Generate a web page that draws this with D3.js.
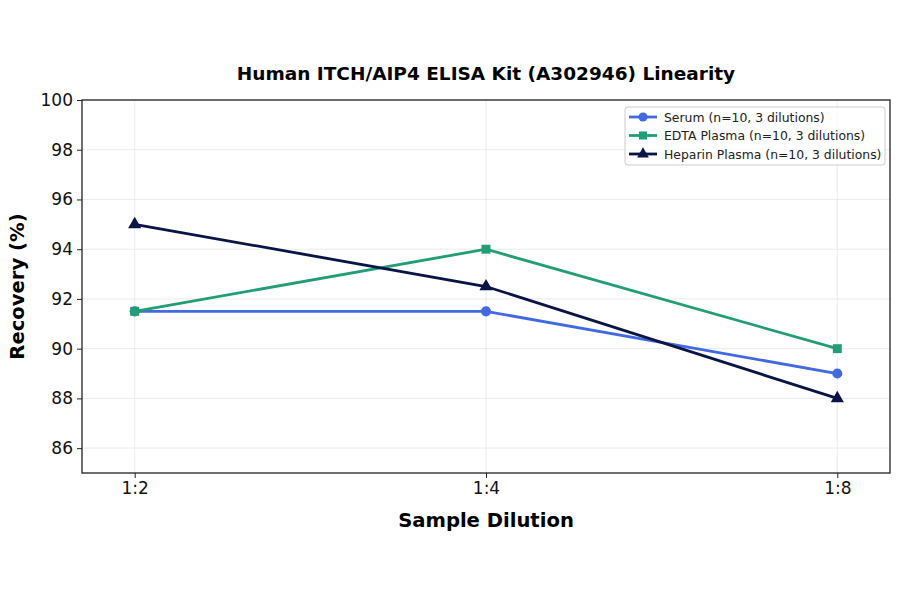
<!DOCTYPE html>
<html><head><meta charset="utf-8">
<script src="https://cdn.jsdelivr.net/npm/d3@7"></script>
<style>body{margin:0;background:#fff}svg{display:block}text{font-family:"DejaVu Sans",sans-serif}</style>
</head><body><svg id="c" width="900" height="594"></svg>
<script>
const categories = ["1:2", "1:4", "1:8"];
const serum = [91.5, 91.5, 89.0];
const edta = [91.5, 94.0, 90.0];
const heparin = [95.0, 92.5, 88.0];
const yTicks = [86, 88, 90, 92, 94, 96, 98, 100];
const seriesNames = ["Serum (n=10, 3 dilutions)", "EDTA Plasma (n=10, 3 dilutions)", "Heparin Plasma (n=10, 3 dilutions)"];

const series = [
  {name: seriesNames[0], values: serum, color: "#4169E1", shape: d3.symbolCircle},
  {name: seriesNames[1], values: edta, color: "#229E76", shape: d3.symbolSquare},
  {name: seriesNames[2], values: heparin, color: "#0B1446", shape: d3.symbolTriangle}
];

const svg = d3.select("#c");
const L = 82, T = 100, R = 890, B = 473;
const x = d3.scalePoint().domain(categories).range([L, R]).padding(0.15);
const y = d3.scaleLinear().domain([85, 100]).range([B, T]);

// grid
const g = svg.append("g");
g.selectAll(".gy").data(yTicks).enter().append("line")
  .attr("x1", L).attr("x2", R).attr("y1", d => y(d)).attr("y2", d => y(d))
  .attr("stroke", "#e6e6e6").attr("stroke-width", 0.8);
g.selectAll(".gx").data(categories).enter().append("line")
  .attr("y1", T).attr("y2", B).attr("x1", d => x(d)).attr("x2", d => x(d))
  .attr("stroke", "#e6e6e6").attr("stroke-width", 0.8);

// axes
const xa = svg.append("g").attr("transform", `translate(0,${B})`)
  .call(d3.axisBottom(x).tickSize(5).tickPadding(4));
const ya = svg.append("g").attr("transform", `translate(${L},0)`)
  .call(d3.axisLeft(y).tickValues(yTicks).tickSize(5).tickPadding(4));
[xa, ya].forEach(a => {
  a.select(".domain").remove();
  a.selectAll("text").attr("font-size", 17).attr("fill", "#111").attr("font-family", "DejaVu Sans");
  a.selectAll("line").attr("stroke", "#222").attr("stroke-width", 1);
});

// lines
const line = d3.line().x((d, i) => x(categories[i])).y(d => y(d));
series.forEach(s => {
  svg.append("path").datum(s.values).attr("d", line)
    .attr("fill", "none").attr("stroke", s.color).attr("stroke-width", 2.8);
  svg.selectAll(null).data(s.values).enter().append("path")
    .attr("d", d3.symbol().type(s.shape).size(s.shape === d3.symbolTriangle ? 75 : 80))
    .attr("transform", (d, i) => `translate(${x(categories[i])},${y(d)})`)
    .attr("fill", s.color);
});

// frame
svg.append("rect").attr("x", L).attr("y", T).attr("width", R - L).attr("height", B - T)
  .attr("fill", "none").attr("stroke", "#222").attr("stroke-width", 1.3);

// title and labels
svg.append("text").attr("x", (L + R) / 2).attr("y", 79.5).attr("text-anchor", "middle")
  .attr("font-size", 18.5).attr("font-weight", "bold").text("Human ITCH/AIP4 ELISA Kit (A302946) Linearity");
svg.append("text").attr("x", (L + R) / 2).attr("y", 527).attr("text-anchor", "middle")
  .attr("font-size", 19.6).attr("font-weight", "bold").text("Sample Dilution");
svg.append("text").attr("transform", `translate(24,${(T + B) / 2}) rotate(-90)`).attr("text-anchor", "middle")
  .attr("font-size", 19.6).attr("font-weight", "bold").text("Recovery (%)");

// legend
const lg = svg.append("g").attr("transform", "translate(625,107)");
lg.append("rect").attr("width", 260).attr("height", 58).attr("rx", 3)
  .attr("fill", "#fff").attr("fill-opacity", 0.8).attr("stroke", "#ccc").attr("stroke-width", 1);
series.forEach((s, i) => {
  const yy = 10 + i * 18.5;
  lg.append("line").attr("x1", 4).attr("x2", 32).attr("y1", yy).attr("y2", yy)
    .attr("stroke", s.color).attr("stroke-width", 2.8);
  lg.append("path").attr("d", d3.symbol().type(s.shape).size(s.shape === d3.symbolTriangle ? 60 : 65))
    .attr("transform", `translate(18,${yy})`).attr("fill", s.color);
  lg.append("text").attr("x", 39).attr("y", yy + 4.5).attr("font-size", 12.4).attr("fill", "#222").text(s.name);
});
</script></body></html>
